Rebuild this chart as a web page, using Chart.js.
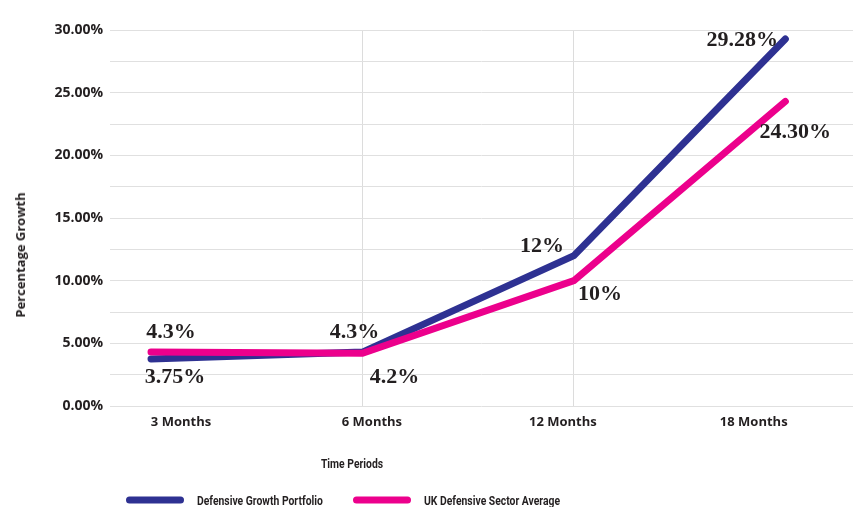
<!DOCTYPE html>
<html>
<head>
<meta charset="utf-8">
<script src="https://cdn.jsdelivr.net/npm/chart.js@4.4.1/dist/chart.umd.min.js"></script>
<style>
  html, body { margin:0; padding:0; background:#fff; }
  #wrap { position:relative; width:853px; height:507px; overflow:hidden; }
  #chart { position:absolute; left:0; top:0; }
  .ytitle { position:absolute; left:20px; top:255px; transform:translate(-50%,-50%) rotate(-90deg);
            font:bold 13px 'Open Sans', sans-serif; color:#231f20; white-space:nowrap; }
  .xtitle { position:absolute; left:352px; top:463px; transform:translate(-50%,-50%) scaleX(0.83);
            font:bold 12.5px Roboto, sans-serif; color:#231f20; white-space:nowrap; }
  .leg { position:absolute; top:500px; transform:translateY(-50%); display:flex; align-items:center;
         color:#231f20; white-space:nowrap; }
  .leg .sw { width:58px; height:7px; border-radius:4px; margin-right:13px; }
  .leg .tx { font:bold 12.5px Roboto, sans-serif; display:inline-block; transform:scaleX(0.83); transform-origin:left center; }
</style>
</head>
<body>
<div id="wrap">
  <canvas id="chart" width="853" height="507"></canvas>
  <div class="ytitle">Percentage Growth</div>
  <div class="xtitle">Time Periods</div>
  <div id="legend"></div>
</div>
<script>
// ── DATA ───────────────────────────────────────────────────────────────
const PERIODS = ['3 Months', '6 Months', '12 Months', '18 Months'];
const PORTFOLIO = [3.75, 4.3, 12, 29.28];
const SECTOR    = [4.3, 4.2, 10, 24.30];
const PORTFOLIO_LABELS = ['3.75%', '4.3%', '12%', '29.28%'];
const SECTOR_LABELS    = ['4.3%', '4.2%', '10%', '24.30%'];

// label offsets (px) from each point
const OFFSETS = [
  [[24, 18], [-8, -20], [-32, -9], [-43, 1]],
  [[20, -20], [32, 24], [26, 14], [10, 31]],
];

const series = [
  { label: 'Defensive Growth Portfolio', data: PORTFOLIO, labels: PORTFOLIO_LABELS, color: '#2e3192', order: 1 },
  { label: 'UK Defensive Sector Average', data: SECTOR, labels: SECTOR_LABELS, color: '#ec008c', order: 0 },
];

// ── POINT LABELS PLUGIN ────────────────────────────────────────────────
const pointLabels = {
  id: 'pointLabels',
  afterDatasetsDraw(chart) {
    const ctx = chart.ctx;
    ctx.save();
    ctx.font = 'bold 22px "Liberation Serif", serif';
    ctx.fillStyle = '#231f20';
    ctx.textAlign = 'center';
    ctx.textBaseline = 'middle';
    chart.data.datasets.forEach((ds, i) => {
      chart.getDatasetMeta(i).data.forEach((pt, j) => {
        const [dx, dy] = OFFSETS[i][j];
        ctx.fillText(ds.valueLabels[j], pt.x + dx, pt.y + dy);
      });
    });
    ctx.restore();
  }
};

new Chart(document.getElementById('chart'), {
  type: 'line',
  data: {
    datasets: series.map(s => ({
      label: s.label,
      data: s.data.map((v, i) => ({ x: i, y: v })),
      valueLabels: s.labels,
      borderColor: s.color,
      backgroundColor: s.color,
      borderWidth: 7,
      borderCapStyle: 'round',
      borderJoinStyle: 'miter',
      pointRadius: 0,
      tension: 0,
      order: s.order,
    }))
  },
  options: {
    responsive: false,
    animation: false,
    layout: { padding: { top: 30, left: 0, right: 0, bottom: 0 } },
    plugins: { legend: { display: false }, tooltip: { enabled: false } },
    scales: {
      x: {
        type: 'linear',
        min: -0.194, max: 3.32,
        border: { display: false },
        grid: {
          drawTicks: false,
          color: c => (c.tick && (c.tick.value === 1 || c.tick.value === 2)) ? '#dcdcdc' : 'rgba(0,0,0,0)',
        },
        ticks: { display: false, stepSize: 1, includeBounds: false },
        afterFit: s => { s.height = 0; },
      },
      xLabels: {
        type: 'linear',
        position: 'bottom',
        min: -0.372, max: 3.52,
        border: { display: false },
        grid: { display: false, drawTicks: false },
        ticks: {
          stepSize: 1, includeBounds: false, padding: 8,
          color: '#231f20', font: { family: "'Open Sans', sans-serif", weight: 'bold', size: 13 },
          callback: v => PERIODS[v] ?? '',
        },
        afterFit: s => { s.height = 101; },
      },
      y: {
        min: 0, max: 30,
        border: { display: false },
        grid: { color: '#e0e0e0', drawTicks: false },
        ticks: {
          stepSize: 2.5, padding: 7,
          color: '#231f20', font: { family: "'Open Sans', sans-serif", weight: 'bold', size: 14 },
          callback: v => (v % 5 === 0 ? v.toFixed(2) + '%' : ''),
        },
        afterFit: s => { s.width = 110; },
      }
    }
  },
  plugins: [pointLabels]
});

// ── LEGEND ─────────────────────────────────────────────────────────────
const legendLeft = [126, 353];
document.getElementById('legend').innerHTML = series.map((s, i) => `
  <div class="leg" style="left:${legendLeft[i]}px">
    <span class="sw" style="background:${s.color}"></span><span class="tx">${s.label}</span>
  </div>
`).join('');
</script>
</body>
</html>
